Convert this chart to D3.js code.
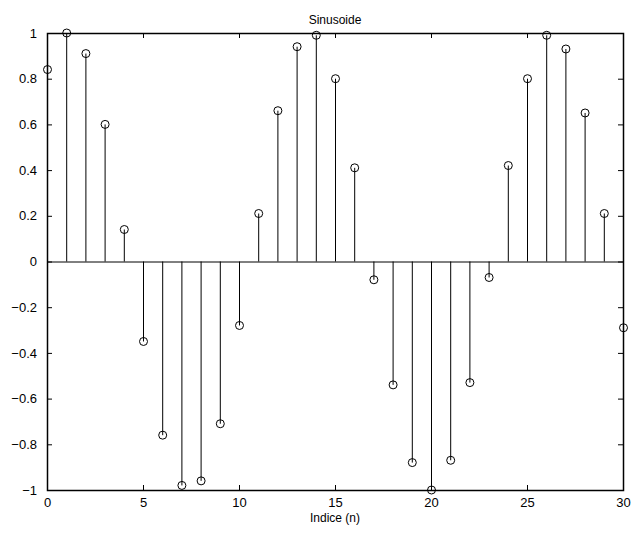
<!DOCTYPE html>
<html>
<head>
<meta charset="utf-8">
<title>Sinusoide</title>
<script src="https://cdn.jsdelivr.net/npm/d3@7"></script>
<style>
  html, body { margin: 0; padding: 0; overflow: hidden; background: #fff; }
  svg { display: block; }
  text { font-family: "Liberation Sans", Arial, sans-serif; fill: #000; }
</style>
</head>
<body>
<script>
  // data
  var indices = d3.range(0, 31)
  var values = [0.84, 1.0, 0.91, 0.60, 0.14, -0.35, -0.76, -0.98, -0.96, -0.71,
                -0.28, 0.21, 0.66, 0.94, 0.99, 0.80, 0.41, -0.08, -0.54, -0.88,
                -1.0, -0.87, -0.53, -0.07, 0.42, 0.80, 0.99, 0.93, 0.65, 0.21, -0.29]
  var xTicks = [0, 5, 10, 15, 20, 25, 30]
  var yTicks = [-1, -0.8, -0.6, -0.4, -0.2, 0, 0.2, 0.4, 0.6, 0.8, 1]

  var width = 632, height = 534
  var mLeft = 47, mRight = 623, mTop = 33, mBottom = 490

  var svg = d3.select("body").append("svg")
      .attr("width", width)
      .attr("height", height)

  var x = d3.scaleLinear().domain([0, 30]).range([mLeft, mRight])
  var y = d3.scaleLinear().domain([-1, 1]).range([mBottom, mTop])

  var fmt = function (d) { return String(Math.round(d * 10) / 10).replace("-", "\u2212") }

  // axes, ticks pointing inward
  svg.append("g")
      .attr("transform", "translate(0," + mBottom + ")")
      .call(d3.axisBottom(x).tickValues(xTicks).tickSizeInner(-5).tickSizeOuter(0).tickPadding(8).tickFormat(d3.format("d")))
  svg.append("g")
      .attr("transform", "translate(0," + mTop + ")")
      .call(d3.axisTop(x).tickValues(xTicks).tickSizeInner(-5).tickSizeOuter(0).tickFormat(""))
  svg.append("g")
      .attr("transform", "translate(" + mLeft + ",0)")
      .call(d3.axisLeft(y).tickValues(yTicks).tickSizeInner(-5).tickSizeOuter(0).tickPadding(10).tickFormat(fmt))
  svg.append("g")
      .attr("transform", "translate(" + mRight + ",0)")
      .call(d3.axisRight(y).tickValues(yTicks).tickSizeInner(-5).tickSizeOuter(0).tickFormat(""))

  svg.selectAll(".domain").attr("stroke", "#000")
  svg.selectAll(".tick line").attr("stroke", "#000")
  svg.selectAll(".tick text").attr("font-size", 13).attr("font-family", "Liberation Sans, Arial, sans-serif")

  // frame, drawn on top of the axes so all four sides show
  svg.append("rect")
      .attr("x", mLeft + 0.5).attr("y", mTop + 0.5)
      .attr("width", mRight - mLeft).attr("height", mBottom - mTop)
      .attr("fill", "none").attr("stroke", "#000").attr("stroke-width", 1.5)

  // zero baseline
  svg.append("line")
      .attr("x1", x(0)).attr("x2", x(30))
      .attr("y1", y(0) + 0.5).attr("y2", y(0) + 0.5)
      .attr("stroke", "#000")

  // stems
  svg.selectAll(".stem").data(values).enter().append("line")
      .attr("class", "stem")
      .attr("x1", function (d, i) { return x(indices[i]) + 0.5 })
      .attr("x2", function (d, i) { return x(indices[i]) + 0.5 })
      .attr("y1", y(0))
      .attr("y2", function (d) { return y(d) })
      .attr("stroke", "#000")

  // markers
  svg.selectAll(".mark").data(values).enter().append("circle")
      .attr("class", "mark")
      .attr("cx", function (d, i) { return x(indices[i]) + 0.5 })
      .attr("cy", function (d) { return y(d) })
      .attr("r", 4)
      .attr("fill", "none")
      .attr("stroke", "#000")

  svg.append("text")
      .attr("x", (mLeft + mRight) / 2).attr("y", 24)
      .attr("text-anchor", "middle")
      .attr("font-size", 12)
      .text("Sinusoide")

  svg.append("text")
      .attr("x", (mLeft + mRight) / 2).attr("y", 522)
      .attr("text-anchor", "middle")
      .attr("font-size", 12)
      .text("Indice (n)")
</script>
</body>
</html>
